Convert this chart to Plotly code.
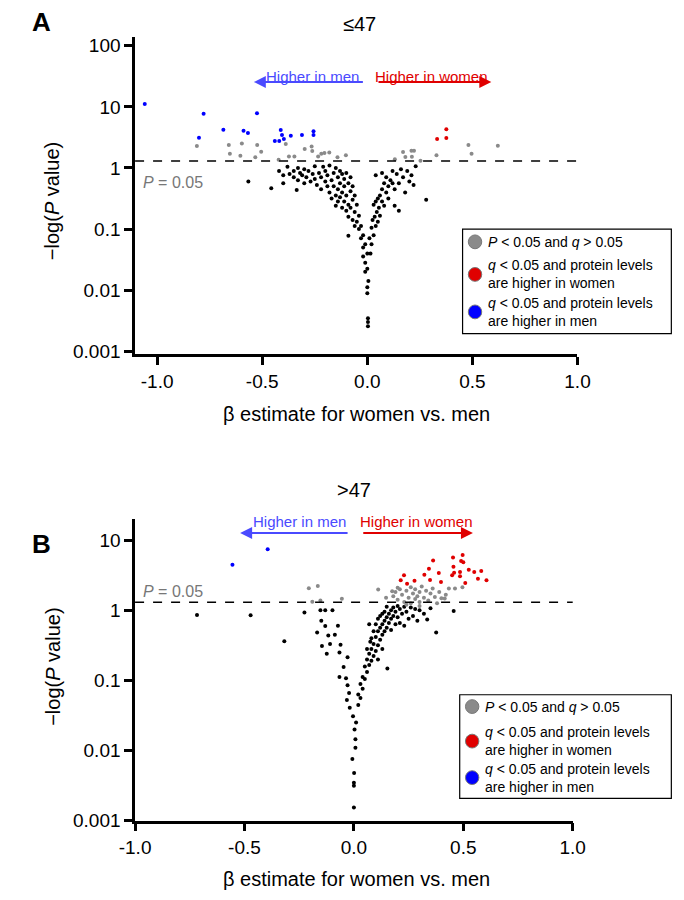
import plotly.graph_objects as go

# ---------- Panel A (<=47): beta, log10(-log P) ----------
a_blue_x = [-1.059,-0.779,-0.801,-0.685,-0.589,-0.568,-0.525,-0.412,-0.406,-0.397,-0.440,-0.419,-0.364,-0.311,-0.256,-0.256]
a_blue_ly = [1.049,0.886,0.495,0.625,0.609,0.571,0.897,0.620,0.538,0.473,0.440,0.440,0.527,0.538,0.603,0.538]
a_red_x = [0.332,0.376,0.376]
a_red_ly = [0.473,0.636,0.489]
a_grey_x = [-0.811,-0.659,-0.654,-0.597,-0.604,-0.524,-0.505,-0.533,-0.388,-0.422,-0.373,-0.347,-0.298,-0.265,-0.262,-0.234,-0.219,-0.204,-0.181,-0.142,-0.102,0.170,0.210,0.222,0.181,0.212,0.131,0.329,0.481,0.496,0.621,0.253]
a_grey_ly = [0.36,0.375,0.234,0.402,0.20,0.375,0.266,0.174,0.391,0.136,0.19,0.19,0.31,0.353,0.277,0.19,0.234,0.245,0.255,0.174,0.207,0.261,0.283,0.283,0.179,0.185,0.141,0.207,0.375,0.234,0.364,0.12]
a_black = [(-0.42,-0.05),(-0.40,-0.12),(-0.40,-0.25),(-0.38,0.02),(-0.37,-0.10),(-0.35,-0.15),(-0.35,-0.05),(-0.33,0.0),(-0.33,-0.20),(-0.32,-0.08),(-0.31,-0.12),(-0.30,-0.02),(-0.30,-0.25),(-0.29,-0.15),(-0.28,-0.05),(-0.27,-0.22),(-0.26,-0.10),(-0.25,0.03),(-0.25,-0.18),(-0.24,-0.28),(-0.23,-0.08),(-0.22,-0.15),(-0.22,-0.35),(-0.21,0.02),(-0.20,-0.22),(-0.20,-0.05),(-0.19,-0.30),(-0.19,-0.12),(-0.18,0.04),(-0.18,-0.40),(-0.17,-0.20),(-0.17,-0.50),(-0.16,-0.08),(-0.16,-0.30),(-0.15,0.00),(-0.15,-0.45),(-0.15,-0.62),(-0.14,-0.15),(-0.14,-0.35),(-0.14,-0.55),(-0.13,-0.05),(-0.13,-0.25),(-0.13,-0.48),(-0.12,-0.10),(-0.12,-0.40),(-0.12,-0.65),(-0.11,-0.18),(-0.11,-0.30),(-0.11,-0.55),(-0.10,-0.08),(-0.10,-0.45),(-0.10,-0.70),(-0.09,-0.25),(-0.09,-0.60),(-0.09,-0.80),(-0.08,-0.15),(-0.08,-0.38),(-0.08,-0.65),(-0.07,-0.30),(-0.07,-0.52),(-0.07,-0.85),(-0.06,-0.45),(-0.06,-0.72),(-0.06,-0.95),(-0.05,-0.60),(-0.05,-0.88),(-0.04,-0.78),(-0.04,-1.00),(-0.03,-0.95),(-0.03,-1.15),(-0.02,-1.10),(-0.02,-1.30),(-0.02,-1.45),(-0.01,-1.25),(-0.01,-1.55),(-0.01,-1.70),(0.00,-1.40),(0.00,-1.65),(0.00,-1.95),(0.00,-2.05),(0.005,-1.85),(0.003,-2.46),(0.003,-2.59),(0.003,-2.52),(-0.566,-0.22),(-0.457,-0.33),(-0.336,-0.36),(-0.09,-1.11),(0.28,-0.52),
(0.01,-1.15),(0.015,-1.40),(0.02,-1.25),(0.02,-0.98),(0.025,-0.85),(0.03,-1.10),(0.03,-0.60),(0.035,-0.80),(0.04,-0.95),(0.04,-0.55),(0.045,-0.72),(0.05,-0.88),(0.05,-0.50),(0.055,-0.65),(0.06,-0.45),(0.06,-0.78),(0.07,-0.55),(0.07,-0.35),(0.08,-0.62),(0.08,-0.25),(0.09,-0.40),(0.09,-0.15),(0.10,-0.30),(0.10,-0.50),(0.11,-0.20),(0.12,-0.25),(0.12,-0.05),(0.13,-0.35),(0.13,-0.62),(0.14,-0.10),(0.15,-0.25),(0.15,-0.70),(0.16,-0.02),(0.17,-0.15),(0.18,-0.40),(0.19,-0.05),(0.20,-0.22),(0.21,-0.12),(0.22,-0.28),(0.23,0.03),(0.07,-0.08),(0.04,-0.12)]

# ---------- Panel B (>47) ----------
b_blue_x = [-0.555,-0.394]
b_blue_ly = [0.648,0.869]
b_red_x = [0.214,0.229,0.243,0.277,0.322,0.343,0.348,0.362,0.388,0.398,0.453,0.455,0.449,0.458,0.485,0.490,0.497,0.500,0.485,0.509,0.525,0.550,0.567,0.582,0.606]
b_red_ly = [0.427,0.498,0.380,0.423,0.507,0.592,0.432,0.709,0.531,0.404,0.751,0.620,0.498,0.535,0.545,0.704,0.789,0.685,0.484,0.390,0.577,0.545,0.451,0.559,0.427]
b_grey = [(-0.206,0.315),(-0.165,0.347),(-0.19,0.122),(-0.153,0.141),(-0.055,0.164),(0.111,0.296),(0.175,0.272),(0.147,0.178),(0.434,0.31),(0.462,0.31),(0.496,0.329),(0.415,0.169),
(0.18,0.20),(0.19,0.26),(0.20,0.15),(0.21,0.30),(0.22,0.22),(0.23,0.12),(0.24,0.28),(0.25,0.18),(0.26,0.33),(0.26,0.10),(0.27,0.24),(0.28,0.16),(0.28,0.30),(0.29,0.20),(0.30,0.26),(0.30,0.12),(0.31,0.34),(0.32,0.18),(0.33,0.28),(0.34,0.14),(0.35,0.24),(0.36,0.31),(0.37,0.19),(0.38,0.10),(0.39,0.26),(0.40,0.17),(0.42,0.22),(0.24,0.08),(0.20,0.32),(0.30,0.06)]
b_black = [(-0.717,-0.066),(-0.472,-0.07),(-0.318,-0.441),(0.376,-0.315),(0.456,-0.01),(0.335,-0.13),(0.153,-0.83),(0.0,-2.81),(0.0,-2.50),(0.0,-2.46),(0.001,-2.32),(-0.007,-2.12),(0.007,-1.96),
(-0.226,-0.03),(-0.153,0.0),(-0.131,0.0),(-0.098,0.0),(-0.149,-0.15),(-0.131,-0.225),(-0.168,-0.315),(-0.117,-0.36),(-0.073,-0.22),(-0.087,-0.35),(-0.109,-0.48),(-0.146,-0.51),(-0.061,-0.49),(-0.124,-0.62),(-0.066,-0.6),(-0.029,-0.67),(-0.047,-0.81),(-0.066,-0.95),(-0.036,-0.97),(-0.029,-1.07),(-0.022,-1.18),(-0.032,-1.28),(-0.019,-1.39),(-0.004,-1.51),(0.003,-1.70),(0.007,-1.84),
(0.01,-1.60),(0.02,-1.35),(0.02,-1.20),(0.03,-1.05),(0.03,-1.25),(0.04,-0.95),(0.04,-1.12),(0.05,-0.80),(0.05,-0.98),(0.06,-0.70),(0.06,-0.88),(0.07,-0.62),(0.07,-0.78),(0.075,-0.45),(0.08,-0.55),(0.08,-0.72),(0.09,-0.30),(0.09,-0.48),(0.09,-0.65),(0.10,-0.20),(0.10,-0.38),(0.10,-0.58),(0.11,-0.12),(0.11,-0.30),(0.11,-0.50),(0.12,-0.08),(0.12,-0.25),(0.12,-0.42),(0.13,-0.05),(0.13,-0.20),(0.13,-0.35),(0.14,-0.02),(0.14,-0.15),(0.14,-0.30),(0.15,0.05),(0.15,-0.10),(0.15,-0.25),(0.16,-0.05),(0.16,-0.18),(0.17,0.0),(0.17,-0.12),(0.17,-0.28),(0.18,0.04),(0.18,-0.08),(0.19,-0.02),(0.19,-0.20),(0.20,0.06),(0.20,-0.10),(0.21,0.02),(0.21,-0.18),(0.22,-0.05),(0.23,0.05),(0.23,-0.22),(0.24,-0.02),(0.25,-0.12),(0.26,0.04),(0.27,-0.08),(0.28,0.02),(0.29,-0.15),(0.30,0.0),(0.32,-0.05),(0.35,0.03),(0.11,-0.70),(0.13,-0.55),(0.08,-0.40),(0.06,-0.55),(0.07,-0.20)]

y_ticks_a = [0.001,0.01,0.1,1,10,100]
y_ticks_b = [0.001,0.01,0.1,1,10]
x_ticks = [-1.0,-0.5,0.0,0.5,1.0]
P_THRESH = 1.3

BLACK, GREY, RED, BLUE = "#000000", "#8a8a8a", "#e00000", "#0000ff"
FONT = "Liberation Sans"

def pw(v): return [10**t for t in v]

fig = go.Figure()
def add(xs, lys, color, xa, ya):
    fig.add_trace(go.Scatter(x=xs, y=pw(lys), mode="markers", xaxis=xa, yaxis=ya,
                             marker=dict(color=color, size=4), showlegend=False, hoverinfo="skip"))

add([p[0] for p in a_black],[p[1] for p in a_black],BLACK,"x","y")
add(a_grey_x,a_grey_ly,GREY,"x","y")
add(a_red_x,a_red_ly,RED,"x","y")
add(a_blue_x,a_blue_ly,BLUE,"x","y")
add([p[0] for p in b_black],[p[1] for p in b_black],BLACK,"x2","y2")
add([p[0] for p in b_grey],[p[1] for p in b_grey],GREY,"x2","y2")
add(b_red_x,b_red_ly,RED,"x2","y2")
add(b_blue_x,b_blue_ly,BLUE,"x2","y2")

W, H = 684, 900
def px(x): return x / W
def py(y): return 1 - y / H

ax_common = dict(showline=True, linecolor="black", linewidth=2.5, ticks="outside", ticklen=8,
                 tickwidth=2.5, tickcolor="black", showgrid=False, zeroline=False,
                 tickfont=dict(family=FONT, size=19, color="black"))
fig.update_layout(
    width=W, height=H, margin=dict(l=0, r=0, t=0, b=0),
    plot_bgcolor="white", paper_bgcolor="white",
    xaxis=dict(domain=[px(116), px(578)], range=[-1.105, 1.0], anchor="y",
               tickvals=x_ticks, ticktext=["-1.0","-0.5","0.0","0.5","1.0"], **ax_common),
    yaxis=dict(domain=[py(350), py(28)], type="log", range=[-3.05, 2.15], anchor="x",
               tickvals=y_ticks_a, ticktext=["0.001","0.01","0.1","1","10","100"], **ax_common),
    xaxis2=dict(domain=[px(116), px(573)], range=[-1.0, 1.0], anchor="y2",
                tickvals=x_ticks, ticktext=["-1.0","-0.5","0.0","0.5","1.0"], **ax_common),
    yaxis2=dict(domain=[py(822.7), py(517)], type="log", range=[-3, 1.30], anchor="x2",
                tickvals=y_ticks_b, ticktext=["0.001","0.01","0.1","1","10"], **ax_common),
)

for xr, yr in (("x","y"),("x2","y2")):
    fig.add_shape(type="line", xref=f"{xr} domain", yref=yr, x0=0, x1=1, y0=P_THRESH, y1=P_THRESH,
                  line=dict(color="black", width=1.5, dash="dash"))

ann = []
def text(x, y, s, size=18, color="black", xanchor="center", yanchor="middle", **kw):
    ann.append(dict(x=x, y=y, xref="paper", yref="paper", text=s, showarrow=False,
                    xanchor=xanchor, yanchor=yanchor, font=dict(family=FONT, size=size, color=color), **kw))

text(px(18), py(13), "<b>A</b>", size=26)
text(px(18), py(542), "<b>B</b>", size=26)
text(px(350), py(15), "≤47", size=20)
text(px(345), py(488), ">47", size=20)
text(px(347), py(410), "β estimate for women vs. men", size=20)
text(px(347), py(882), "β estimate for women vs. men", size=20)
text(px(30), py(195), "−log(<i>P</i> value)", size=20, textangle=-90)
text(px(30), py(667), "−log(<i>P</i> value)", size=20, textangle=-90)
text(px(122), py(176), "<i>P</i> = 0.05", size=16, color="#777777", xanchor="left")
text(px(122), py(590), "<i>P</i> = 0.05", size=16, color="#777777", xanchor="left")

# directional labels and arrows
for xr, yr_txt, yr_arr, mx, wx, m0, m1, w0, w1 in (
        ("x", 58, 74, -0.26, 0.305, -0.014, -0.54, 0.046, 0.59),
        ("x2", 519, 531, -0.25, 0.284, -0.022, -0.52, 0.036, 0.544)):
    ann.append(dict(x=mx, y=py(yr_txt), xref=xr, yref="paper", text="Higher in men", showarrow=False,
                    font=dict(family=FONT, size=15, color="#4a4aff")))
    ann.append(dict(x=wx, y=py(yr_txt), xref=xr, yref="paper", text="Higher in women", showarrow=False,
                    font=dict(family=FONT, size=15, color=RED)))
    ann.append(dict(x=m1, y=py(yr_arr), xref=xr, yref="paper", ax=m0, ay=0, axref=xr, ayref="pixel",
                    text="", showarrow=True, arrowhead=2, arrowsize=1.2, arrowwidth=2, arrowcolor="#4a4aff"))
    ann.append(dict(x=w1, y=py(yr_arr), xref=xr, yref="paper", ax=w0, ay=0, axref=xr, ayref="pixel",
                    text="", showarrow=True, arrowhead=2, arrowsize=1.2, arrowwidth=2, arrowcolor=RED))

# legend boxes
for (bx0, by0, bx1, by1, cy) in ((458, 223, 676, 329, (236, 269, 307)),
                                  (455, 695, 676, 800, (707, 742, 779))):
    fig.add_shape(type="rect", xref="paper", yref="paper", x0=px(bx0), x1=px(bx1), y0=py(by1), y1=py(by0),
                  line=dict(color="black", width=1.2), fillcolor="white")
    cx = bx0 + 13
    for c, yc in zip((GREY, RED, BLUE), cy):
        fig.add_shape(type="circle", xref="paper", yref="paper", x0=px(cx-7), x1=px(cx+7),
                      y0=py(yc+7), y1=py(yc-7), fillcolor=c, line=dict(color="#777777", width=1))
    tx = px(cx + 11)
    text(tx, py(cy[0]), "<i>P</i> < 0.05 and <i>q</i> > 0.05", size=14, xanchor="left")
    text(tx, py(cy[1]), "<i>q</i> < 0.05 and protein levels<br>are higher in women", size=14, xanchor="left", align="left")
    text(tx, py(cy[2]), "<i>q</i> < 0.05 and protein levels<br>are higher in men", size=14, xanchor="left", align="left")

fig.update_layout(annotations=ann)
fig.write_html("out.html")
